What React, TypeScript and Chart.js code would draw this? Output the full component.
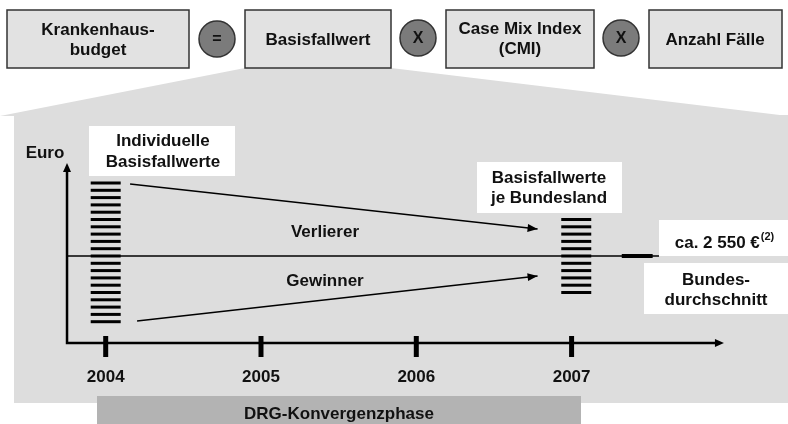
import React, { useEffect, useRef } from "react";
import { Chart, registerables } from "chart.js";

Chart.register(...registerables);

// ---- Data ----
const years = [2004, 2005, 2006, 2007];
const yearLabels = ["2004", "2005", "2006", "2007"];
// individual hospital base rates (2004), Euro
const individualRates = [3280, 3207, 3134, 3061, 2988, 2915, 2842, 2769, 2696, 2623, 2550, 2477, 2404, 2331, 2258, 2185, 2112, 2039, 1966, 1893];
// base rates per federal state (2007), Euro
const stateRates = [2915, 2842, 2769, 2696, 2623, 2550, 2477, 2404, 2331, 2258, 2185];
const federalAverage = 2550;
const individualYear = 2004.0;
const stateYear = 2007.03;
const loserArrow = [
  { x: 2004.157, y: 3270 },
  { x: 2006.781, y: 2820 },
];
const winnerArrow = [
  { x: 2004.202, y: 1900 },
  { x: 2006.781, y: 2350 },
];
const averageLine = [
  { x: 2003.751, y: federalAverage },
  { x: 2007.563, y: federalAverage },
];
const averageMarker = [
  { x: 2007.323, y: federalAverage },
  { x: 2007.522, y: federalAverage },
];
const axisOrigin = { x: 2003.751, y: 1680 };
const axisEnd = { x: 2007.981, y: 3480 };
const loserLabel = { x: 2005.412, y: 2790, text: "Verlierer" };
const winnerLabel = { x: 2005.412, y: 2300, text: "Gewinner" };

const FONT = '"Liberation Sans", Arial, Helvetica, sans-serif';

function drawLines(ctx: CanvasRenderingContext2D, lines: string[], cx: number, cy: number, lh: number, size = 17) {
  ctx.font = `bold ${size}px ${FONT}`;
  ctx.fillStyle = "#111";
  ctx.textAlign = "center";
  ctx.textBaseline = "middle";
  const start = cy - ((lines.length - 1) * lh) / 2;
  lines.forEach((l, i) => ctx.fillText(l, cx, start + i * lh));
}

function box(ctx: CanvasRenderingContext2D, x0: number, y0: number, x1: number, y1: number, fill: string, stroke?: string) {
  ctx.fillStyle = fill;
  ctx.fillRect(x0, y0, x1 - x0, y1 - y0);
  if (stroke) {
    ctx.strokeStyle = stroke;
    ctx.lineWidth = 1.5;
    ctx.strokeRect(x0, y0, x1 - x0, y1 - y0);
  }
}

function circle(ctx: CanvasRenderingContext2D, cx: number, cy: number, r: number, label: string) {
  ctx.beginPath();
  ctx.arc(cx, cy, r, 0, Math.PI * 2);
  ctx.fillStyle = "#7b7b7b";
  ctx.fill();
  ctx.lineWidth = 1.5;
  ctx.strokeStyle = "#333";
  ctx.stroke();
  drawLines(ctx, [label], cx, cy + 1, 0, 16);
}

function arrowHead(ctx: CanvasRenderingContext2D, x0: number, y0: number, x1: number, y1: number, len: number, half: number) {
  const a = Math.atan2(y1 - y0, x1 - x0);
  ctx.beginPath();
  ctx.moveTo(x1, y1);
  ctx.lineTo(x1 - len * Math.cos(a) + half * Math.sin(a), y1 - len * Math.sin(a) - half * Math.cos(a));
  ctx.lineTo(x1 - len * Math.cos(a) - half * Math.sin(a), y1 - len * Math.sin(a) + half * Math.cos(a));
  ctx.closePath();
  ctx.fillStyle = "#000";
  ctx.fill();
}

const diagramPlugin = {
  id: "diagram",
  beforeDatasetsDraw(chart: any) {
    const ctx: CanvasRenderingContext2D = chart.ctx;
    const xs = chart.scales.x;
    const ys = chart.scales.y;
    ctx.save();
    ctx.fillStyle = "#fff";
    ctx.fillRect(0, 0, chart.width, chart.height);

    // callout + panel
    ctx.fillStyle = "#dddddd";
    ctx.beginPath();
    ctx.moveTo(245, 68);
    ctx.lineTo(391, 68);
    ctx.lineTo(788, 116);
    ctx.lineTo(0, 116);
    ctx.closePath();
    ctx.fill();
    ctx.fillRect(14, 115, 774, 288);

    // DRG bar
    box(ctx, 97, 396, 581, 424, "#b3b3b3");
    drawLines(ctx, ["DRG-Konvergenzphase"], 339, 414, 0);

    // formula boxes
    box(ctx, 7, 10, 189, 68, "#e2e2e2", "#333");
    drawLines(ctx, ["Krankenhaus-", "budget"], 98, 40, 20);
    circle(ctx, 217, 39, 18, "=");
    box(ctx, 245, 10, 391, 68, "#e2e2e2", "#333");
    drawLines(ctx, ["Basisfallwert"], 318, 40, 0);
    circle(ctx, 418, 38, 18, "X");
    box(ctx, 446, 10, 594, 68, "#e2e2e2", "#333");
    drawLines(ctx, ["Case Mix Index", "(CMI)"], 520, 39, 20);
    circle(ctx, 621, 38, 18, "X");
    box(ctx, 649, 10, 782, 68, "#e2e2e2", "#333");
    drawLines(ctx, ["Anzahl Fälle"], 715, 40, 0);

    // white label boxes
    box(ctx, 89, 126, 235, 176, "#fff");
    drawLines(ctx, ["Individuelle", "Basisfallwerte"], 163, 152, 21);
    box(ctx, 477, 162, 622, 213, "#fff");
    drawLines(ctx, ["Basisfallwerte", "je Bundesland"], 549, 188, 20);
    box(ctx, 659, 220, 788, 256, "#fff");
    box(ctx, 644, 263, 788, 314, "#fff");
    drawLines(ctx, ["Bundes-", "durchschnitt"], 716, 290, 20);

    // "ca. 2 550 €(2)"
    ctx.font = `bold 17px ${FONT}`;
    const main = "ca. 2 550 €";
    const wMain = ctx.measureText(main).width;
    ctx.font = `bold 11px ${FONT}`;
    const wSup = ctx.measureText("(2)").width;
    const left = 724 - (wMain + wSup) / 2;
    ctx.textAlign = "left";
    ctx.textBaseline = "middle";
    ctx.fillStyle = "#111";
    ctx.font = `bold 17px ${FONT}`;
    ctx.fillText(main, left, 243);
    ctx.font = `bold 11px ${FONT}`;
    ctx.fillText("(2)", left + wMain + 1, 237);

    // Euro label
    drawLines(ctx, ["Euro"], 45, 153, 0);

    // axes
    const ox = xs.getPixelForValue(axisOrigin.x);
    const oy = ys.getPixelForValue(axisOrigin.y);
    const ex = xs.getPixelForValue(axisEnd.x);
    const ey = ys.getPixelForValue(axisEnd.y);
    ctx.strokeStyle = "#000";
    ctx.lineWidth = 2.5;
    ctx.beginPath();
    ctx.moveTo(ox, ey + 6);
    ctx.lineTo(ox, oy);
    ctx.lineTo(ex - 6, oy);
    ctx.stroke();
    arrowHead(ctx, ox, oy, ox, ey, 9, 4);
    arrowHead(ctx, ox, oy, ex, oy, 9, 4);

    // ticks and year labels
    ctx.lineWidth = 5;
    years.forEach((yr, i) => {
      const px = xs.getPixelForValue(yr);
      ctx.beginPath();
      ctx.moveTo(px, oy - 7);
      ctx.lineTo(px, oy + 14);
      ctx.stroke();
      drawLines(ctx, [yearLabels[i]], px, oy + 34, 0);
    });

    // Verlierer / Gewinner
    [loserLabel, winnerLabel].forEach((l) => {
      drawLines(ctx, [l.text], xs.getPixelForValue(l.x), ys.getPixelForValue(l.y), 0);
    });
    ctx.restore();
  },
  afterDatasetsDraw(chart: any) {
    const ctx: CanvasRenderingContext2D = chart.ctx;
    const xs = chart.scales.x;
    const ys = chart.scales.y;
    ctx.save();
    [loserArrow, winnerArrow].forEach((arr) => {
      const a = arr[arr.length - 2];
      const b = arr[arr.length - 1];
      arrowHead(
        ctx,
        xs.getPixelForValue(a.x),
        ys.getPixelForValue(a.y),
        xs.getPixelForValue(b.x),
        ys.getPixelForValue(b.y),
        10,
        4
      );
    });
    ctx.restore();
  },
};

export default function App() {
  const ref = useRef<HTMLCanvasElement>(null);
  useEffect(() => {
    if (!ref.current) return;
    const lineDs = (data: any[], width: number) => ({
      type: "line" as const,
      data,
      showLine: true,
      borderColor: "#000",
      borderWidth: width,
      pointRadius: 0,
      fill: false,
      clip: false as any,
    });
    const chart = new Chart(ref.current, {
      type: "scatter",
      data: {
        datasets: [
          lineDs(averageLine, 1.6),
          lineDs(averageMarker, 4),
          lineDs(loserArrow, 1.5),
          lineDs(winnerArrow, 1.5),
          {
            data: individualRates.map((v) => ({ x: individualYear, y: v })),
            pointStyle: "line",
            pointRadius: 15,
            pointBorderWidth: 3,
            pointBorderColor: "#000",
            borderColor: "#000",
            backgroundColor: "#000",
          } as any,
          {
            data: stateRates.map((v) => ({ x: stateYear, y: v })),
            pointStyle: "line",
            pointRadius: 15,
            pointBorderWidth: 3,
            pointBorderColor: "#000",
            borderColor: "#000",
            backgroundColor: "#000",
          } as any,
        ],
      },
      options: {
        responsive: false,
        animation: false,
        devicePixelRatio: 1,
        events: [],
        layout: { padding: 0, autoPadding: false },
        plugins: { legend: { display: false }, tooltip: { enabled: false } },
        scales: {
          x: { type: "linear", display: false, min: 2003.3194, max: 2008.3935 },
          y: { type: "linear", display: false, min: 870, max: 5110 },
        },
      },
      plugins: [diagramPlugin],
    });
    return () => chart.destroy();
  }, []);
  return (
    <div style={{ position: "absolute", left: 0, top: 0, width: 788, height: 424 }}>
      <canvas ref={ref} width={788} height={424} style={{ display: "block" }} />
    </div>
  );
}
